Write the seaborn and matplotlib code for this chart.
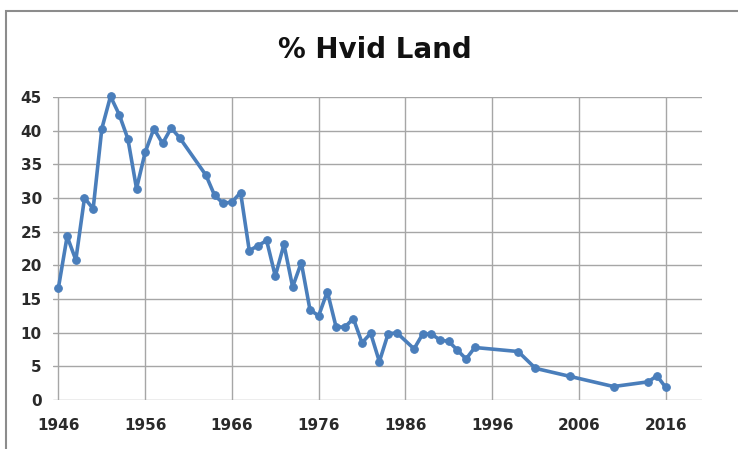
import pandas as pd
import seaborn as sns
import matplotlib.pyplot as plt
from matplotlib.patches import Rectangle

# data
years = [1946, 1947, 1948, 1949, 1950, 1951, 1952, 1953, 1954, 1955,
         1956, 1957, 1958, 1959, 1960, 1963, 1964, 1965, 1966, 1967,
         1968, 1969, 1970, 1971, 1972, 1973, 1974, 1975, 1976, 1977,
         1978, 1979, 1980, 1981, 1982, 1983, 1984, 1985, 1987, 1988,
         1989, 1990, 1991, 1992, 1993, 1994, 1999, 2001, 2005, 2010,
         2014, 2015, 2016]
pct = [16.7, 24.3, 20.8, 30.0, 28.4, 40.3, 45.1, 42.4, 38.8, 31.4,
       36.8, 40.3, 38.1, 40.4, 38.9, 33.4, 30.4, 29.2, 29.4, 30.8,
       22.2, 22.9, 23.7, 18.4, 23.1, 16.8, 20.4, 13.4, 12.5, 16.1,
       10.9, 10.8, 12.1, 8.5, 9.9, 5.7, 9.8, 10.0, 7.6, 9.8,
       9.8, 8.9, 8.7, 7.4, 6.1, 7.8, 7.2, 4.7, 3.5, 2.0,
       2.7, 3.6, 1.9]
x_ticks = [1946, 1956, 1966, 1976, 1986, 1996, 2006, 2016]
y_ticks = [0, 5, 10, 15, 20, 25, 30, 35, 40, 45]

df = pd.DataFrame({'Year': years, 'Pct': pct})

sns.set_style('white')
plt.rcParams['font.family'] = ['DejaVu Sans']

fig = plt.figure(figsize=(7.38, 4.49), dpi=100)
ax = fig.add_axes([53 / 738, 49 / 449, 649 / 738, 303 / 449])

sns.lineplot(x='Year', y='Pct', data=df, ax=ax, color='#4A7EBB',
             linewidth=2.6, marker='o', markersize=5.5,
             markeredgecolor='#4A7EBB', clip_on=False, zorder=3)

ax.set_xlim(1945.37, 2020.2)
ax.set_ylim(0, 45)
ax.set_xticks(x_ticks)
ax.set_yticks(y_ticks)
ax.grid(True, color='#a6a6a6', linewidth=1.0)
for s in ax.spines.values():
    s.set_visible(False)
ax.tick_params(axis='x', length=0, pad=13, labelsize=11, labelcolor='#2a2a2a')
ax.tick_params(axis='y', length=0, pad=8, labelsize=11, labelcolor='#2a2a2a')
for lab in ax.get_xticklabels() + ax.get_yticklabels():
    lab.set_fontweight('bold')
ax.set_xlabel('')
ax.set_ylabel('')

fig.text(375 / 738, 1 - 50 / 449, '% Hvid Land', ha='center', va='center',
         fontsize=20, fontweight='bold', color='#111111')

# outer chart border
fig.add_artist(Rectangle((6 / 738, -0.2), 1.2, 1.2 - 11 / 449,
                         transform=fig.transFigure, fill=False,
                         edgecolor='#8c8c8c', linewidth=1.5))

fig.savefig('out.png', dpi=100)
